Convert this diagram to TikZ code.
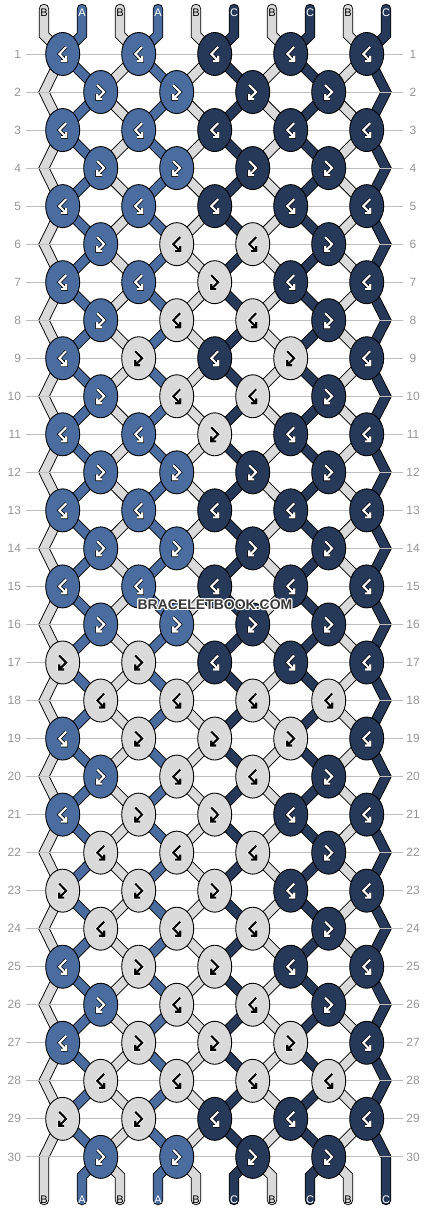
\documentclass[tikz,border=0pt]{standalone}
\usepackage{fontspec}
\setmainfont{Liberation Sans}
\usetikzlibrary{shapes.geometric, positioning}
\pgfdeclarelayer{background}
\pgfsetlayers{background,main}

\begin{document}
\begin{tikzpicture}[x=1pt, y=-1pt,
        every node/.style={inner sep=0pt, outer sep=0pt},
        knot/.style={ellipse, draw=black, line width=0.9pt, minimum width=34pt, minimum height=43pt},
        thread/.style={draw=black, line width=0.9pt, double=#1, double distance=8.6pt, line join=miter, line cap=round},
        rowline/.style={draw=rulegray, line width=0.9pt},
        rownum/.style={font=\fontsize{12}{12}\selectfont, text=numgray},
        strname/.style={font=\fontsize{11}{11}\selectfont},
        glyph/.style={draw=gout#1, double=gin#1, line width=0.7pt, double distance=2.1pt, line join=miter},
        wmark/.style={font=\fontsize{14}{14}\selectfont\bfseries},
    ]

        \definecolor{col0}{RGB}{218,218,218} % B
        \definecolor{col1}{RGB}{74,108,159}  % A
        \definecolor{col2}{RGB}{38,57,89}    % C
        \colorlet{gout0}{white} \colorlet{gin0}{black}
        \colorlet{gout1}{black} \colorlet{gin1}{white}
        \colorlet{gout2}{black} \colorlet{gin2}{white}
        \definecolor{rulegray}{RGB}{190,190,190}
        \definecolor{numgray}{RGB}{150,150,150}
        \definecolor{markgray}{RGB}{55,55,55}

        \useasboundingbox (0,0) rectangle (430,1212);

        % knots row by row (0 = B, 1 = A, 2 = C)
        \foreach \r/\row in {1/{1,1,2,2,2}, 2/{1,1,2,2}, 3/{1,1,2,2,2}, 4/{1,1,2,2},
                5/{1,1,2,2,2}, 6/{1,0,0,2}, 7/{1,1,0,2,2}, 8/{1,0,0,2}, 9/{1,0,2,0,2},
                10/{1,0,0,2}, 11/{1,1,0,2,2}, 12/{1,1,2,2}, 13/{1,1,2,2,2}, 14/{1,1,2,2},
                15/{1,1,2,2,2}, 16/{1,1,2,2}, 17/{0,0,2,2,2}, 18/{0,0,0,0}, 19/{1,0,0,0,2},
                20/{1,0,0,2}, 21/{1,0,0,2,2}, 22/{0,0,0,2}, 23/{0,0,0,2,2}, 24/{0,0,0,2},
                25/{1,0,0,2,2}, 26/{1,0,0,2}, 27/{1,0,0,0,2}, 28/{0,0,0,0}, 29/{0,0,2,2,2},
                30/{1,1,2,2}}{
            \pgfmathsetmacro\yr{54+38.03*(\r-1)}
            \draw[rowline] (26,\yr) -- (403,\yr);
            \node[rownum, anchor=east] (nl-\r) at (21,\yr) {\r};
            \node[rownum] (nr-\r) at (413,\yr) {\r};
            \foreach \c [count=\i] in \row {
                \pgfmathsetmacro\xk{(mod(\r,2)==1 ? 62.7 : 100.7)+76*(\i-1)}
                \pgfmathtruncatemacro\gs{mod(\r+(\c>0),2)==0 ? 1 : -1}
                \node[knot, fill=col\c] (k-\r-\i) at (\xk,\yr) {};
                \draw[glyph=\c, shift={(k-\r-\i.center)}, xscale=\gs]
                    (3.5,-7) -- (-3.4,0) -- (3.5,7) (-1.5,7) -- (3.5,7) -- (3.5,2);
            }
        }

        % string ends and the bends at the edges
        \foreach \p in {1,...,10}{
            \pgfmathsetmacro\xs{44+38*(\p-1)}
            \coordinate (top-\p) at (\xs,9);
            \coordinate (bend-\p) at (\xs,35);
            \coordinate (foot-\p) at (\xs,1176);
            \coordinate (bot-\p) at (\xs,1200);
        }
        \foreach \r in {2,4,...,30}{
            \pgfmathsetmacro\yr{54+38.03*(\r-1)}
            \coordinate (L-\r) at (44,\yr);
            \coordinate (R-\r) at (386,\yr);
        }

        \begin{pgfonlayer}{background}
            \draw[thread=col0] (top-1) -- (bend-1)
                \foreach \r/\rn in {1/2,3/4,5/6,7/8,9/10,11/12,13/14,15/16,17/18,19/20,21/22,23/24,25/26,27/28,29/30}{
                    -- (k-\r-1.center) -- (L-\rn) } -- (foot-1) -- (bot-1);
            \draw[thread=col2] (top-10) -- (bend-10)
                \foreach \r/\rn in {1/2,3/4,5/6,7/8,9/10,11/12,13/14,15/16,17/18,19/20,21/22,23/24,25/26,27/28,29/30}{
                    -- (k-\r-5.center) -- (R-\rn) } -- (foot-10) -- (bot-10);
            \foreach \p/\ko/\ke/\cc in {2/1/1/1, 3/2/1/0, 4/2/2/1, 5/3/2/0, 6/3/3/2, 7/4/3/0, 8/4/4/2, 9/5/4/0}{
                \draw[thread=col\cc] (top-\p) -- (bend-\p)
                    \foreach \r/\rn in {1/2,3/4,5/6,7/8,9/10,11/12,13/14,15/16,17/18,19/20,21/22,23/24,25/26,27/28,29/30}{
                        -- (k-\r-\ko.center) -- (k-\rn-\ke.center) } -- (foot-\p) -- (bot-\p);
            }
        \end{pgfonlayer}

        \foreach \p/\nm/\tc in {1/B/black, 2/A/white, 3/B/black, 4/A/white, 5/B/black,
                6/C/white, 7/B/black, 8/C/white, 9/B/black, 10/C/white}{
            \pgfmathsetmacro\xs{44+38*(\p-1)}
            \node[strname, text=\tc] (tl-\p) at (\xs,12.5) {\nm};
            \node[strname, text=\tc] (bl-\p) at (\xs,1200) {\nm};
        }

        \foreach \dx/\dy [count=\n] in {-1/0, 1/0, 0/-1, 0/1, -1/-1, 1/1, -1/1, 1/-1}
            \node[wmark, text=white] (halo-\n) at (215+\dx,605+\dy) {BRACELETBOOK.COM};
        \node[wmark, text=markgray] (mark) at (215,605) {BRACELETBOOK.COM};

\end{tikzpicture}
\end{document}
